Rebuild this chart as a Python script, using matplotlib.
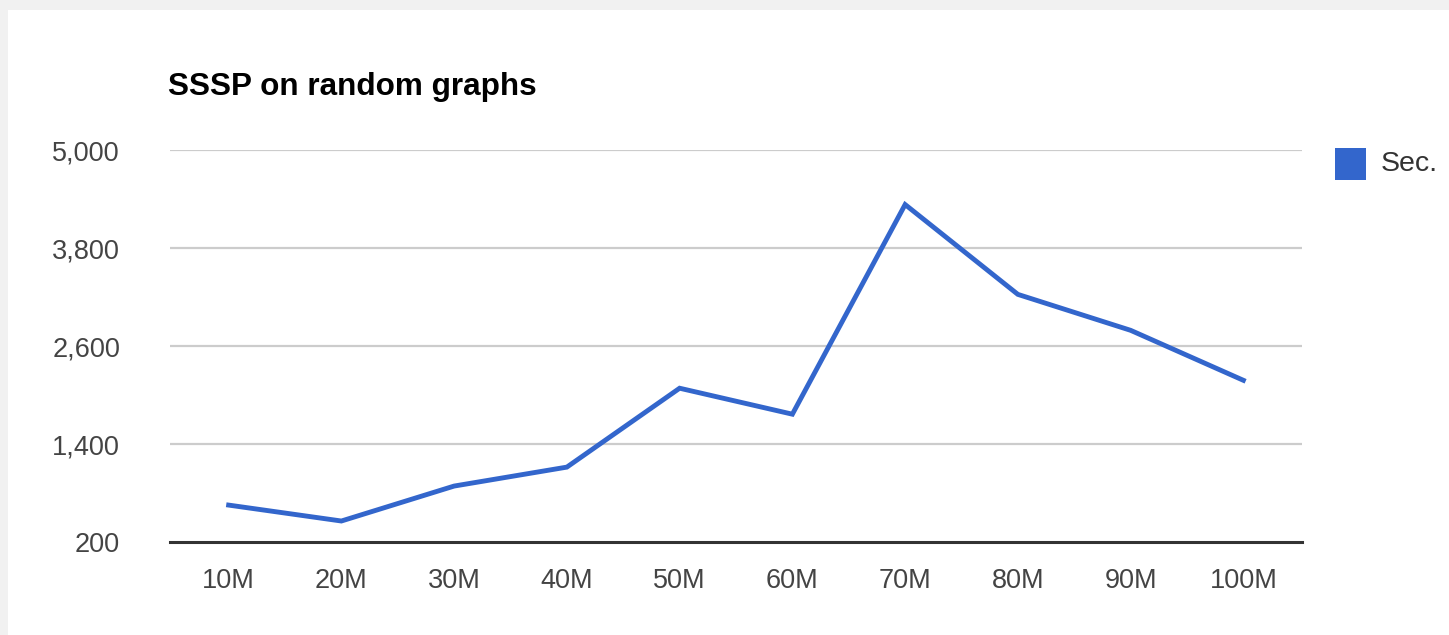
import matplotlib.pyplot as plt
from matplotlib.patches import Rectangle

# data
sizes = ["10M", "20M", "30M", "40M", "50M", "60M", "70M", "80M", "90M", "100M"]
seconds = [652, 457, 885, 1117, 2083, 1765, 4332, 3232, 2792, 2180]
yticks = [200, 1400, 2600, 3800, 5000]

blue = "#3366cc"

fig = plt.figure(figsize=(14.49, 6.35), dpi=100, facecolor="#f1f1f1")
# white card
fig.patches.append(Rectangle((8 / 1449, 0), 1, 625 / 635, transform=fig.transFigure,
                             facecolor="white", edgecolor="none", zorder=-10))

ax = fig.add_axes([170 / 1449, 93 / 635, 1132 / 1449, 392 / 635])
ax.set_facecolor("none")
ax.set_zorder(2)

x = list(range(len(sizes)))
ax.plot(x, seconds, color=blue, lw=3.5, solid_joinstyle="miter", zorder=3)

ax.set_xlim(-0.52, 9.52)
ax.set_ylim(200, 5000)
ax.set_yticks(yticks)
ax.set_yticklabels([f"{v:,}" for v in yticks])
ax.set_xticks(x)
ax.set_xticklabels(sizes)

for v in yticks[1:]:
    ax.axhline(v, color="#cccccc", lw=1.6, zorder=1)
ax.axhline(200, color="#333333", lw=2.2, zorder=2, clip_on=False)

for s in ax.spines.values():
    s.set_visible(False)
ax.tick_params(length=0, labelsize=19.5, labelcolor="#444444")
ax.tick_params(axis="y", pad=36)
ax.tick_params(axis="x", pad=19)
for t in ax.get_xticklabels() + ax.get_yticklabels():
    t.set_family("Liberation Sans")

fig.text(168 / 1449, 1 - 87 / 635, "SSSP on random graphs", fontsize=22.7, fontweight="bold",
         family="Liberation Sans", va="center", ha="left", color="black")

# legend
fig.patches.append(Rectangle((1335 / 1449, 1 - 180 / 635), 31 / 1449, 32 / 635,
                             transform=fig.transFigure, facecolor=blue, edgecolor="none"))
fig.text(1381 / 1449, 1 - 164 / 635, "Sec.", fontsize=20.5, family="Liberation Sans",
         color="#333333", va="center", ha="left")

fig.savefig("out.png", dpi=100, facecolor=fig.get_facecolor())
